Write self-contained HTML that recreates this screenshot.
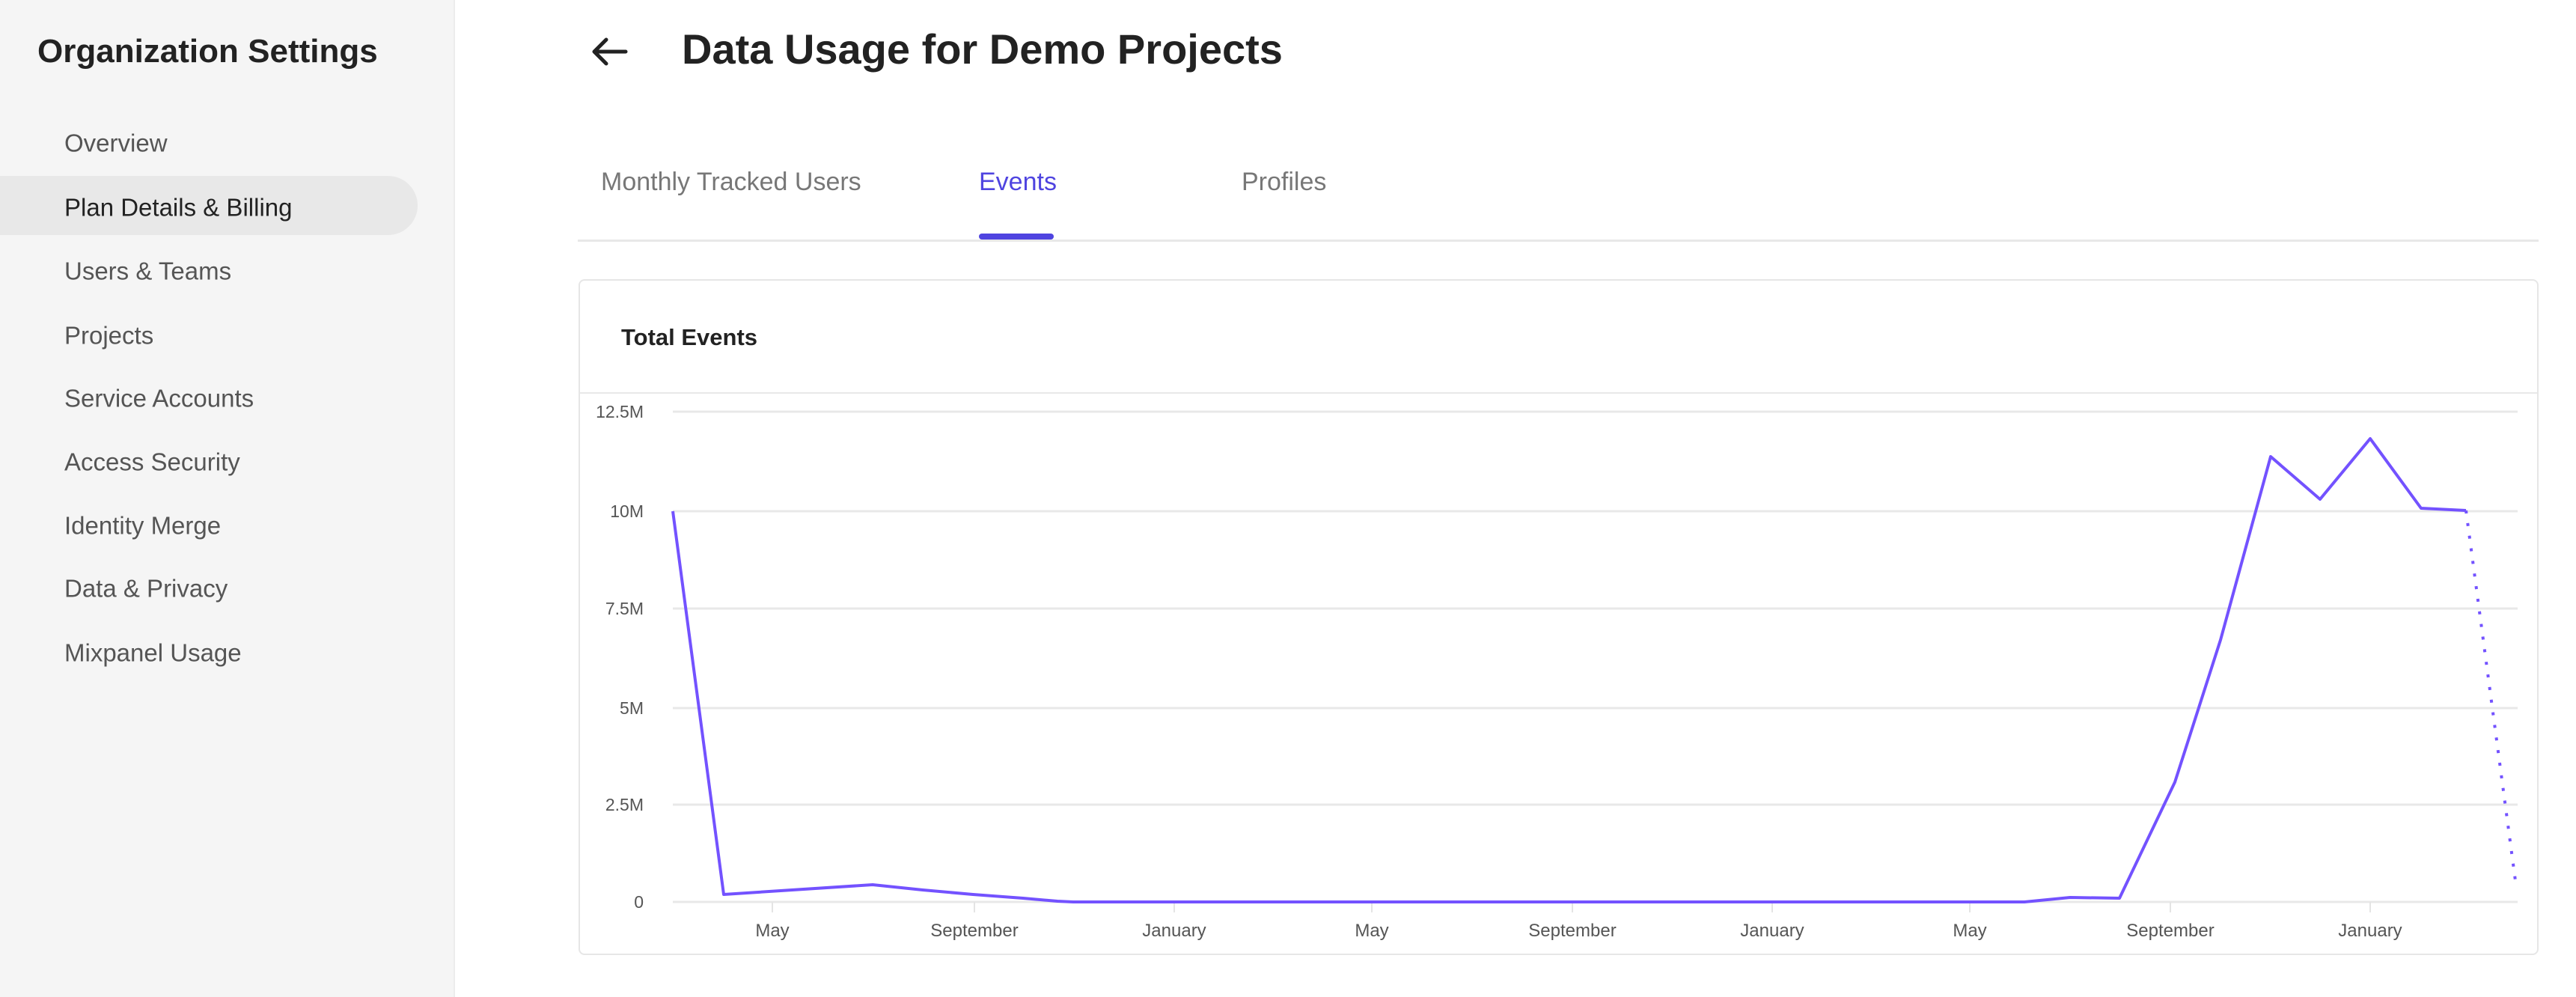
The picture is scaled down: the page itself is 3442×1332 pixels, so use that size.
<!DOCTYPE html>
<html><head><meta charset="utf-8"><style>
*{margin:0;padding:0;box-sizing:border-box}
body{width:3442px;height:1332px;background:#fff;font-family:"Liberation Sans",sans-serif;position:relative;overflow:hidden}
.t{position:absolute;white-space:nowrap;line-height:1}
#side{position:absolute;left:0;top:0;width:608px;height:1332px;background:#f5f5f5;border-right:2px solid #ececec}
.nav{position:absolute;left:86px;font-size:33px;color:#555;transform:translateY(-50%)}
</style></head><body>
<div id="side"></div>
<div class="t" style="left:50px;top:47px;font-size:44px;font-weight:bold;color:#222">Organization Settings</div>
<div style="position:absolute;left:0;top:235px;width:558px;height:79px;background:#e8e8e8;border-radius:0 40px 40px 0"></div>
<div class="t nav" style="top:191px">Overview</div>
<div class="t nav" style="top:277px;color:#222">Plan Details &amp; Billing</div>
<div class="t nav" style="top:362px">Users &amp; Teams</div>
<div class="t nav" style="top:448px">Projects</div>
<div class="t nav" style="top:532px">Service Accounts</div>
<div class="t nav" style="top:617px">Access Security</div>
<div class="t nav" style="top:702px">Identity Merge</div>
<div class="t nav" style="top:786px">Data &amp; Privacy</div>
<div class="t nav" style="top:872px">Mixpanel Usage</div>

<svg style="position:absolute;left:788px;top:48px" width="56" height="42" viewBox="0 0 56 42"><path d="M48 21H6M22 5L6 21l16 16" fill="none" stroke="#222" stroke-width="5" stroke-linecap="round" stroke-linejoin="round"/></svg>
<div class="t" style="left:911px;top:38px;font-size:56px;font-weight:bold;color:#222">Data Usage for Demo Projects</div>

<div class="t" style="left:803px;top:226px;font-size:34px;color:#777">Monthly Tracked Users</div>
<div class="t" style="left:1308px;top:226px;font-size:34px;color:#4f44e0">Events</div>
<div class="t" style="left:1659px;top:226px;font-size:34px;color:#777">Profiles</div>
<div style="position:absolute;left:772px;top:320px;width:2620px;height:3px;background:#e8e8e8"></div>
<div style="position:absolute;left:1308px;top:312px;width:100px;height:8px;background:#4f44e0;border-radius:4px"></div>

<div style="position:absolute;left:773px;top:373px;width:2619px;height:903px;border:2px solid #e6e6e6;border-radius:8px"></div>
<div style="position:absolute;left:775px;top:524px;width:2615px;height:2px;background:#e8e8e8"></div>
<div class="t" style="left:830px;top:435px;font-size:31px;font-weight:bold;color:#222">Total Events</div>

<svg style="position:absolute;left:0;top:0" width="3442" height="1332">
<g stroke="#e8e8e8" stroke-width="3">
<line x1="899" y1="550" x2="3364" y2="550"/><line x1="899" y1="683" x2="3364" y2="683"/>
<line x1="899" y1="813" x2="3364" y2="813"/><line x1="899" y1="946" x2="3364" y2="946"/>
<line x1="899" y1="1075" x2="3364" y2="1075"/><line x1="899" y1="1205" x2="3364" y2="1205"/>
</g>
<g stroke="#e4e4e4" stroke-width="2">
<line x1="1032" y1="1205" x2="1032" y2="1219"/><line x1="1302" y1="1205" x2="1302" y2="1219"/>
<line x1="1569" y1="1205" x2="1569" y2="1219"/><line x1="1833" y1="1205" x2="1833" y2="1219"/>
<line x1="2101" y1="1205" x2="2101" y2="1219"/><line x1="2368" y1="1205" x2="2368" y2="1219"/>
<line x1="2632" y1="1205" x2="2632" y2="1219"/><line x1="2900" y1="1205" x2="2900" y2="1219"/>
<line x1="3167" y1="1205" x2="3167" y2="1219"/>
</g>
<g font-family="Liberation Sans" font-size="23" fill="#555" text-anchor="end">
<text x="860" y="558">12.5M</text><text x="860" y="691">10M</text><text x="860" y="821">7.5M</text>
<text x="860" y="954">5M</text><text x="860" y="1083">2.5M</text><text x="860" y="1213">0</text>
</g>
<g font-family="Liberation Sans" font-size="24" fill="#555" text-anchor="middle">
<text x="1032" y="1251">May</text><text x="1302" y="1251">September</text><text x="1569" y="1251">January</text>
<text x="1833" y="1251">May</text><text x="2101" y="1251">September</text><text x="2368" y="1251">January</text>
<text x="2632" y="1251">May</text><text x="2900" y="1251">September</text><text x="3167" y="1251">January</text>
</g>
<polyline fill="none" stroke="#7352ff" stroke-width="4" stroke-linejoin="round" points="899,683 967,1195 1166,1182 1233,1189 1300,1195 1367,1200 1413,1204 1434,1205 2705,1205 2766,1199 2832,1200 2906,1045 2967,855 3034,610 3100,667 3167,586 3235,679 3295,682"/>
<polyline fill="none" stroke="#7352ff" stroke-width="4" stroke-dasharray="4 13" points="3295,682 3362,1184"/>
</svg>
</body></html>
